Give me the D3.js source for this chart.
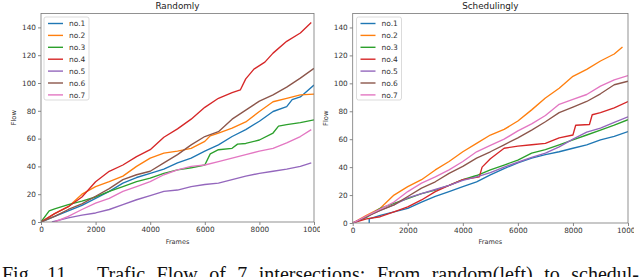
<!doctype html>
<html lang="en">
<head>
<meta charset="UTF-8" />
<script src="https://d3js.org/d3.v7.min.js"></script>
<style>
  body { margin: 0; background: #fff; }
  svg { display: block; font-family: "DejaVu Sans", sans-serif; }
</style>
</head>
<body>
<div id="chart"></div>
<script>
// series names and colours (matplotlib tab10)
const seriesNames = ["no.1", "no.2", "no.3", "no.4", "no.5", "no.6", "no.7"]
const seriesColors = ["#1f77b4", "#ff7f0e", "#2ca02c", "#d62728", "#9467bd", "#8c564b", "#e377c2"]

const xTicks = [0, 2000, 4000, 6000, 8000, 10000]
const yTicks = [0, 20, 40, 60, 80, 100, 120, 140]

// Randomly: [frame, flow]
const randBlue = [[0,0],[500,4],[1000,8],[1500,12],[2000,17],[2500,22],[3000,28],[3500,32],[4000,35],[4500,38],[5000,42.5],[5500,46],[6000,51],[6500,55.5],[7000,61.5],[7500,66.5],[8000,72.5],[8500,79.5],[9000,83],[9200,88],[9500,90],[10000,98.5]]
const randOrange = [[0,0],[500,6],[1000,11],[1500,20],[2000,25.5],[2500,29],[3000,33],[3500,40],[4000,46],[4500,49.5],[5000,51],[5500,53],[6000,58],[6200,62],[6500,64],[7000,67.5],[7500,72],[8000,79.5],[8500,86.5],[9000,89],[9500,91.5],[10000,92]]
const randGreen = [[0,0],[300,8],[500,9.5],[1000,12.5],[1500,15],[2000,18],[2500,22],[3000,25.5],[3500,29],[4000,31.5],[4500,35],[5000,37.5],[5500,39],[6000,41],[6200,49],[6500,52],[7000,53],[7200,56],[7500,56.5],[8000,59],[8500,64],[8700,69],[9000,70],[9500,71.5],[10000,73.5]]
const randRed = [[0,0],[500,6],[1000,11],[1500,18],[2000,29],[2500,36.5],[3000,41],[3500,47],[4000,52],[4500,61],[5000,67],[5500,74],[6000,82.5],[6500,89],[7000,93],[7300,95],[7500,103],[7800,110],[8200,115],[8500,121.5],[9000,130],[9500,136],[9900,143.5]]
const randPurple = [[400,0],[1000,3],[1500,5],[2000,6.5],[2500,9],[3000,12.5],[3500,16],[4000,19],[4500,22],[5000,23],[5500,25.5],[6000,27],[6500,28],[7000,30.5],[7500,33],[8000,35],[8500,36.5],[9000,38],[9500,40],[9900,42.5]]
const randBrown = [[0,0],[500,4],[1000,9],[1500,13],[2000,18.5],[2500,24],[3000,30.5],[3500,34],[4000,36.5],[4500,42.5],[5000,48.5],[5500,55.5],[6000,61.5],[6500,65],[7000,74],[7500,80.5],[8000,87],[8500,91.5],[9000,97],[9500,103.5],[10000,110.5]]
const randPink = [[500,0],[1000,4],[1500,9],[2000,13.5],[2500,17],[3000,22],[3500,25.5],[4000,29],[4500,34],[5000,37.5],[5500,40],[6000,41],[6500,43.5],[7000,46],[7500,48.5],[8000,51],[8500,53],[9000,57],[9500,61.5],[9900,66.5]]

// Schedulingly: [frame, flow]
const schedBlue = [[600,0],[600,3],[1000,5.5],[1500,8],[2000,10.5],[2500,15],[3000,19],[3500,22.5],[4000,26],[4500,29.5],[5000,34.5],[5500,39],[6000,43],[6500,46.5],[7000,49],[7500,51],[8000,53.5],[8500,56],[9000,59.5],[9500,62],[10000,65.5]]
const schedOrange = [[0,0],[500,5.5],[1000,10.5],[1500,20],[2000,26],[2500,31],[3000,38],[3500,44],[4000,51],[4500,57],[5000,63],[5500,67],[6000,73],[6500,81],[7000,89.5],[7500,96.5],[8000,105],[8500,110],[9000,116],[9500,121],[9800,126]]
const schedGreen = [[0,0],[500,4],[1000,10.5],[1500,14],[2000,17.5],[2500,21],[3000,23.5],[3500,27],[4000,31],[4500,34],[5000,38],[5500,41.5],[6000,45],[6500,50],[7000,52.5],[7500,56],[8000,59.5],[8500,63],[9000,66.5],[9500,70],[10000,74]]
const schedRed = [[0,0],[500,3],[1000,4.5],[1500,8],[2000,11.5],[2500,16.5],[3000,22.5],[3500,27],[4000,31],[4600,33],[4700,40],[5000,46],[5500,53.5],[6000,55],[6500,56],[7000,57],[7500,61],[8000,63],[8100,70],[8600,70.5],[8700,77.5],[9000,79],[9500,82.5],[10000,87]]
const schedPurple = [[0,0],[500,4.5],[1000,9],[1500,13],[2000,18],[2500,21],[3000,24],[3500,27],[4000,30.5],[4500,33],[5000,36],[5500,40],[6000,43.5],[6500,47],[7000,50],[7500,54.5],[8000,60],[8500,65],[9000,68],[9500,72],[10000,76]]
const schedBrown = [[0,0],[500,4.5],[1000,9],[1500,13],[2000,19],[2500,25],[3000,29.5],[3500,35.5],[4000,40.5],[4500,46.5],[5000,51],[5500,56],[6000,61],[6500,66.5],[7000,72.5],[7500,79],[8000,83],[8500,87],[9000,92.5],[9500,99],[10000,101.5]]
const schedPink = [[0,0],[500,5],[1000,10],[1500,15],[2000,22.5],[2500,28.5],[3000,33],[3500,38],[4000,44],[4500,51],[5000,55.5],[5500,60],[6000,66],[6500,71],[7000,77],[7500,85],[8000,88.5],[8500,92],[9000,98],[9500,102.5],[10000,105.5]]

const randomSeries = [randBlue, randOrange, randGreen, randRed, randPurple, randBrown, randPink]
const schedSeries = [schedBlue, schedOrange, schedGreen, schedRed, schedPurple, schedBrown, schedPink]

const W = 640, H = 277

const svg = d3.select("#chart").append("svg")
    .attr("width", W)
    .attr("height", H)

const defs = svg.append("defs")

function drawPanel(opts) {
    const { id, clipX0, clipX1, left, right, top, bottom, title, series, legendX, legendW } = opts

    defs.append("clipPath").attr("id", "clip-" + id)
        .append("rect").attr("x", clipX0).attr("y", 0).attr("width", clipX1 - clipX0).attr("height", 255)

    const panel = svg.append("g").attr("clip-path", `url(#clip-${id})`)
    panel.append("rect").attr("x", clipX0).attr("y", 0).attr("width", clipX1 - clipX0).attr("height", 255).attr("fill", "#fff")

    const x = d3.scaleLinear().domain([0, 10000]).range([left, right])
    const y = d3.scaleLinear().domain([0, 150]).range([bottom, top])

    defs.append("clipPath").attr("id", "plot-" + id)
        .append("rect").attr("x", left).attr("y", top).attr("width", right - left).attr("height", bottom - top)

    const line = d3.line().x(d => x(d[0])).y(d => y(d[1]))

    panel.append("g").attr("clip-path", `url(#plot-${id})`)
        .selectAll("path")
        .data(series)
        .join("path")
        .attr("d", line)
        .attr("fill", "none")
        .attr("stroke", (d, i) => seriesColors[i])
        .attr("stroke-width", 1.35)
        .attr("stroke-linejoin", "round")

    // axes
    const xAxis = panel.append("g")
        .attr("transform", `translate(0,${bottom})`)
        .call(d3.axisBottom(x).tickValues(xTicks).tickSize(3).tickPadding(2).tickFormat(d3.format("d")))
    const yAxis = panel.append("g")
        .attr("transform", `translate(${left},0)`)
        .call(d3.axisLeft(y).tickValues(yTicks).tickSize(3).tickPadding(2))
    ;[xAxis, yAxis].forEach(a => {
        a.select(".domain").remove()
        a.selectAll("line").attr("stroke", "#555").attr("stroke-width", 0.7)
        a.selectAll("text").attr("fill", "#333").style("font-size", "7.3px").style("font-family", "DejaVu Sans")
    })

    // frame
    panel.append("rect")
        .attr("x", left).attr("y", top)
        .attr("width", right - left).attr("height", bottom - top)
        .attr("fill", "none").attr("stroke", "#777").attr("stroke-width", 0.8)

    panel.append("text")
        .attr("x", (left + right) / 2).attr("y", 9)
        .attr("text-anchor", "middle")
        .attr("fill", "#222")
        .style("font-size", "8.8px")
        .text(title)

    panel.append("text")
        .attr("x", (left + right) / 2).attr("y", 244)
        .attr("text-anchor", "middle")
        .attr("fill", "#333")
        .style("font-size", "6.5px")
        .text("Frames")

    panel.append("text")
        .attr("transform", `translate(${left - 25},${(top + bottom) / 2}) rotate(-90)`)
        .attr("text-anchor", "middle")
        .attr("fill", "#333")
        .style("font-size", "6.8px")
        .text("Flow")

    // legend
    const lg = panel.append("g").attr("transform", `translate(${legendX},17)`)
    lg.append("rect")
        .attr("width", legendW).attr("height", 83)
        .attr("rx", 2)
        .attr("fill", "#fff").attr("fill-opacity", 0.85)
        .attr("stroke", "#ccc").attr("stroke-width", 0.7)
    seriesNames.forEach((name, i) => {
        const row = lg.append("g").attr("transform", `translate(0,${6.5 + i * 11.9})`)
        row.append("line")
            .attr("x1", 4).attr("x2", 19)
            .attr("stroke", seriesColors[i]).attr("stroke-width", 1.4)
        row.append("text")
            .attr("x", 25).attr("y", 2.6)
            .attr("fill", "#333")
            .style("font-size", "7.5px")
            .text(name)
    })
}

drawPanel({ id: "rand", clipX0: 0, clipX1: 320, left: 41, right: 314, top: 13.5, bottom: 222,
    title: "Randomly", series: randomSeries, legendX: 44, legendW: 45 })
drawPanel({ id: "sched", clipX0: 320, clipX1: 634, left: 352.7, right: 628, top: 13.5, bottom: 223,
    title: "Schedulingly", series: schedSeries, legendX: 356.5, legendW: 45 })

// caption, justified words
const caption = svg.append("g")
    .style("font-family", "'Liberation Serif', 'Times New Roman', serif")
    .style("font-size", "20px")
    .attr("fill", "#111")
caption.append("text").attr("x", 2).attr("y", 281).text("Fig.")
caption.append("text").attr("x", 47).attr("y", 281).text("11.")

const words = ["Trafic", "Flow", "of", "7", "intersections:", "From", "random(left)", "to", "schedul-"]
const wordNodes = words.map(w => caption.append("text").attr("y", 281).text(w))
const widths = wordNodes.map(n => n.node().getComputedTextLength())
const startX = 97, endX = 639
const gap = (endX - startX - d3.sum(widths)) / (words.length - 1)
let cx = startX
wordNodes.forEach((n, i) => {
    n.attr("x", cx)
    cx += widths[i] + gap
})
</script>
</body>
</html>
